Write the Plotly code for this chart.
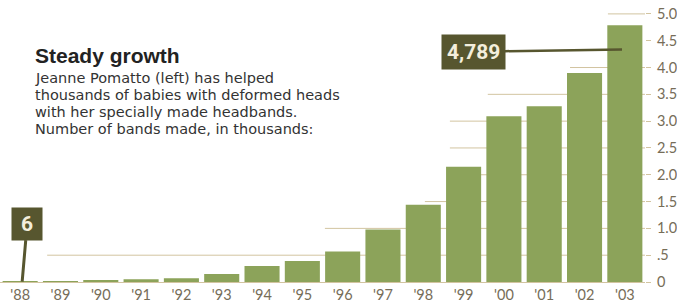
import plotly.graph_objects as go

# ---- data ----
years = ["'88", "'89", "'90", "'91", "'92", "'93", "'94", "'95", "'96", "'97",
         "'98", "'99", "'00", "'01", "'02", "'03"]
bands_thousands = [0.006, 0.01, 0.03, 0.05, 0.07, 0.15, 0.30, 0.39, 0.57, 0.98,
                   1.44, 2.15, 3.09, 3.28, 3.90, 4.789]
y_tickvals = [0, 0.5, 1.0, 1.5, 2.0, 2.5, 3.0, 3.5, 4.0, 4.5, 5.0]
y_ticktext = ["0", ".5", "1.0", "1.5", "2.0", "2.5", "3.0", "3.5", "4.0", "4.5", "5.0"]
first_label = "6"
last_label = "4,789"
title = "Steady growth"
subtitle_lines = ["Jeanne Pomatto (left) has helped",
                  "thousands of babies with deformed heads",
                  "with her specially made headbands.",
                  "Number of bands made, in thousands:"]
# decorative gridline start positions (category index) per gridline level
grid_levels = [0.5, 1.0, 1.5, 2.0, 2.5, 3.0, 3.5, 4.0, 5.0]
grid_starts = [0.67, 7.56, 10.04, 10.6, 10.66, 10.66, 11.6, 13.64, 14.58]

BAR = "#8ca35a"
BOX = "#57562f"
GRID = "#d2c4a0"
TXT = "#766d58"

fig = go.Figure()
fig.add_trace(go.Bar(x=list(range(len(years))), y=bands_thousands,
                     marker=dict(color=BAR, line=dict(width=0)),
                     hoverinfo="skip"))

shapes = []
for lvl, st in zip(grid_levels, grid_starts):
    shapes.append(dict(type="line", xref="x", yref="y", x0=st, x1=len(years) - 0.5,
                       y0=lvl, y1=lvl, line=dict(color=GRID, width=1), layer="below"))

fig.update_layout(
    width=677, height=303,
    margin=dict(l=0, r=32, t=0, b=19),
    paper_bgcolor="white", plot_bgcolor="white",
    bargap=0.13, showlegend=False,
    shapes=shapes,
    xaxis=dict(range=[-0.5, len(years) - 0.5], tickmode="array",
               tickvals=list(range(len(years))), ticktext=years,
               showgrid=False, zeroline=False, showline=True,
               linecolor=GRID, linewidth=1, ticks="",
               tickfont=dict(family="Lato", size=14.5, color=TXT)),
    yaxis=dict(range=[0, 284 / 54], side="right", tickmode="array",
               tickvals=y_tickvals, ticktext=y_ticktext,
               showgrid=False, zeroline=False, showline=False,
               ticks="outside", ticklen=5, tickcolor=GRID,
               ticklabelstandoff=3,
               tickfont=dict(family="Lato", size=14.5, color=TXT)),
)

# title + subtitle
fig.add_annotation(xref="paper", yref="paper", x=33 / 645, y=1 - 42 / 284,
                   xanchor="left", yanchor="top", showarrow=False,
                   text="<b>" + title + "</b>",
                   font=dict(family="Liberation Sans", size=21, color="#222222"))
for i, line in enumerate(subtitle_lines):
    fig.add_annotation(xref="paper", yref="paper", x=33 / 645,
                       y=1 - (68 + 17.3 * i) / 284,
                       xanchor="left", yanchor="top", showarrow=False, text=line,
                       font=dict(family="DejaVu Sans", size=14.5, color="#333333"))

# value callouts
fig.add_annotation(x=len(years) - 1 - 0.07, y=bands_thousands[-1] * 0.905,
                   text="<b>" + last_label + "</b>", showarrow=True,
                   arrowhead=0, arrowwidth=2.5, arrowcolor=BOX,
                   ax=-149, ay=2, bgcolor=BOX, borderpad=5,
                   font=dict(family="Roboto", size=21, color="#f3eedc"))
fig.add_annotation(x=0.05, y=bands_thousands[0], text="<b>" + first_label + "</b>",
                   showarrow=True, arrowhead=0, arrowwidth=3, arrowcolor=BOX,
                   ax=5, ay=-58, bgcolor=BOX, width=22, height=24, borderpad=4,
                   font=dict(family="Roboto", size=21, color="#f3eedc"))

fig.write_html("out.html", config={"displayModeBar": False},
               post_script="document.body.style.margin='0';")
